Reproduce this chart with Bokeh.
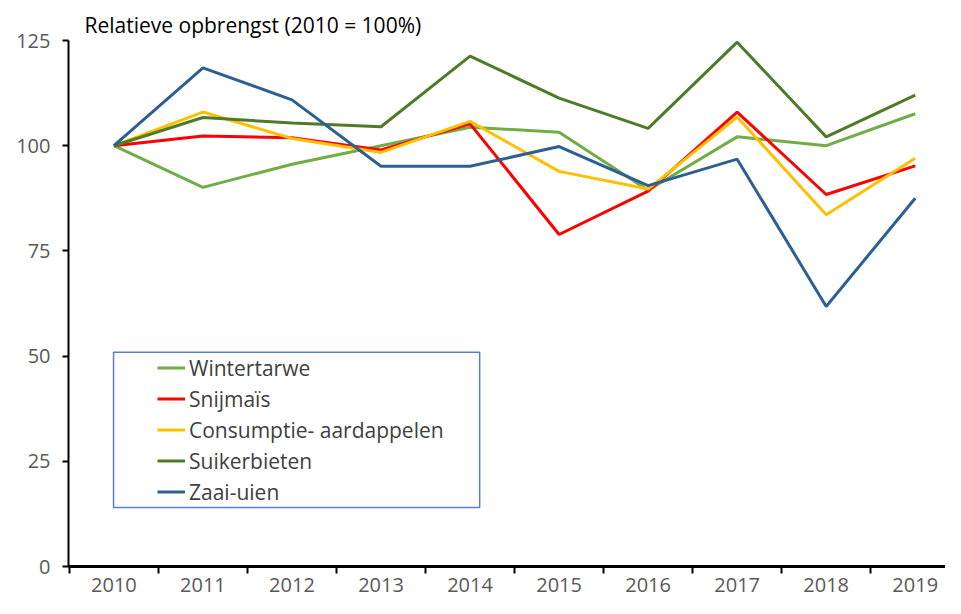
from bokeh.plotting import figure
from bokeh.models import (FixedTicker, Legend, LegendItem, BoxAnnotation, Range1d, Title)
from bokeh.embed import file_html
from bokeh.resources import INLINE

years = [2010, 2011, 2012, 2013, 2014, 2015, 2016, 2017, 2018, 2019]
wintertarwe = [100, 90.1, 95.6, 100.0, 104.4, 103.2, 89.4, 102.1, 100.0, 107.6]
snijmais = [100, 102.3, 101.9, 99.0, 105.2, 78.9, 89.2, 108.0, 88.4, 95.2]
consumptie = [100, 108.0, 101.7, 98.4, 105.8, 93.9, 89.7, 106.8, 83.6, 97.0]
suikerbieten = [100, 106.7, 105.4, 104.5, 121.3, 111.3, 104.1, 124.6, 102.1, 112.0]
zaaiuien = [100, 118.5, 110.9, 95.1, 95.1, 99.8, 90.5, 96.8, 61.8, 87.5]

series_names = ["Wintertarwe", "Snijmaïs", "Consumptie- aardappelen", "Suikerbieten", "Zaai-uien"]
series_values = [wintertarwe, snijmais, consumptie, suikerbieten, zaaiuien]
series_colors = ["#70AD47", "#FF0000", "#FFC000", "#4F7A28", "#2D5F93"]
y_ticks = [0, 25, 50, 75, 100, 125]
title_text = "Relatieve opbrengst (2010 = 100%)"

FONT = "Open Sans"

p = figure(width=945, height=598, output_backend="svg", toolbar_location=None,
           x_range=Range1d(2009.49, 2019.34), y_range=Range1d(0, 125),
           min_border_left=68, min_border_right=0, min_border_top=40, min_border_bottom=32)
p.outline_line_color = None
p.xgrid.visible = False
p.ygrid.visible = False
p.background_fill_color = "white"
p.border_fill_color = "white"

p.title = Title(text=title_text, align="left", offset=16, standoff=4,
                text_font=FONT, text_font_size="21px", text_color="black",
                text_font_style="normal")

renderers = []
for name, vals, col in zip(series_names, series_values, series_colors):
    r = p.line(years, vals, line_color=col, line_width=3)
    renderers.append(r)

# x axis: labels at category centres, ticks at category boundaries
xa = p.xaxis[0]
xa.ticker = FixedTicker(ticks=years, minor_ticks=[y - 0.5 for y in years] + [years[-1] + 0.5])
xa.major_tick_line_color = None
xa.major_tick_out = 0
xa.major_tick_in = 0
xa.minor_tick_line_color = "black"
xa.minor_tick_line_width = 2
xa.minor_tick_out = 7
xa.minor_tick_in = 0
xa.axis_line_color = "black"
xa.axis_line_width = 3
xa.major_label_text_font = FONT
xa.major_label_text_font_size = "20px"
xa.major_label_text_color = "#595959"
xa.major_label_standoff = 4

ya = p.yaxis[0]
ya.ticker = FixedTicker(ticks=y_ticks)
ya.minor_tick_line_color = None
ya.major_tick_line_color = "black"
ya.major_tick_line_width = 2
ya.major_tick_out = 6
ya.major_tick_in = 0
ya.axis_line_color = "black"
ya.axis_line_width = 2
ya.major_label_text_font = FONT
ya.major_label_text_font_size = "20px"
ya.major_label_text_color = "#595959"
ya.major_label_standoff = 12

# legend frame
box = BoxAnnotation(left=2009.996, right=2014.108, bottom=14.0, top=50.9,
                    fill_alpha=0, line_color="#5B7FC7", line_alpha=1.0, line_width=1.5)
p.add_layout(box)

legend = Legend(items=[LegendItem(label=n, renderers=[r]) for n, r in zip(series_names, renderers)],
                location=(89, 59), padding=0, margin=0, spacing=0,
                glyph_width=28, glyph_height=31, label_height=31, label_standoff=4,
                label_text_font=FONT, label_text_font_size="21px", label_text_color="#404040",
                border_line_alpha=0, background_fill_alpha=0)
p.add_layout(legend)

open("out.html", "w").write(file_html(p, INLINE))
